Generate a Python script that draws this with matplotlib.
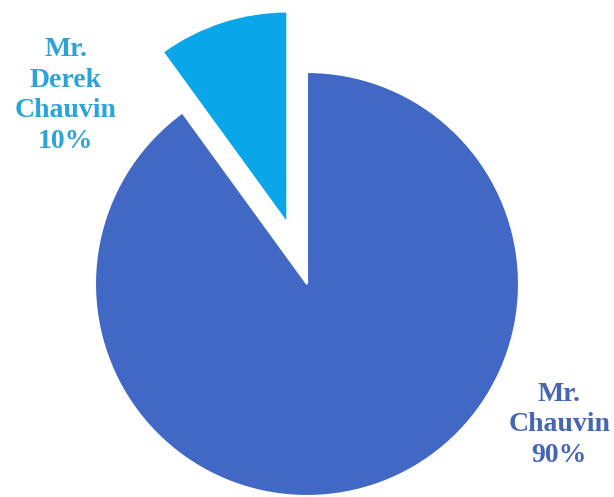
import matplotlib
matplotlib.use("Agg")
import matplotlib.pyplot as plt

labels = ["Mr.\nChauvin\n90%", "Mr.\nDerek\nChauvin\n10%"]
values = [90, 10]
colors = ["#4268C6", "#0AA6EA"]
label_colors = ["#4466B4", "#2EA3D8"]

fig = plt.figure(figsize=(6.14, 4.97), dpi=100)
ax = fig.add_axes([0, 0, 1, 1])
wedges, _ = ax.pie(values, startangle=90, counterclock=False, colors=colors,
                   explode=[0, 0.30], radius=1.0,
                   wedgeprops=dict(edgecolor="white", linewidth=1.5))
ax.set_xlim(-307/212, 307/212)
ax.set_ylim(-(497-284)/212, 284/212)
ax.set_aspect("auto")
ax.axis("off")

pos = [(1.19, -0.665), (-1.139, 0.889)]
for lab, (x, y), c in zip(labels, pos, label_colors):
    ax.text(x, y, lab, ha="center", va="center", color=c, fontsize=20,
            fontweight="bold", family="Liberation Serif", linespacing=1.3)

fig.savefig("out.png", dpi=100)
